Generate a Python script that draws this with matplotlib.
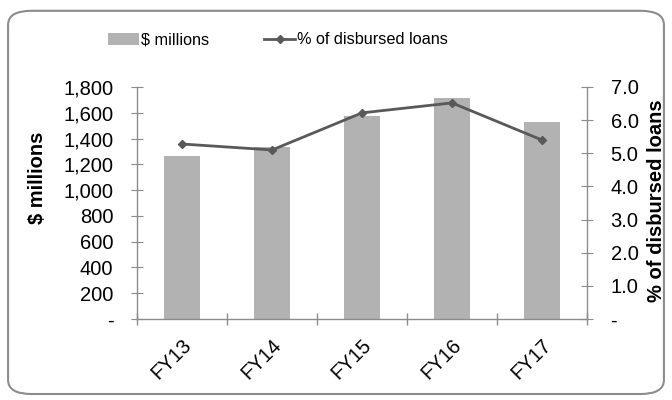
import matplotlib.pyplot as plt
from matplotlib.patches import FancyBboxPatch
import numpy as np

plt.rcParams['font.family'] = ['Liberation Sans', 'DejaVu Sans']

# Data
years = ['FY13', 'FY14', 'FY15', 'FY16', 'FY17']
millions = [1268, 1338, 1578, 1712, 1525]
pct_loans = [5.28, 5.10, 6.22, 6.52, 5.40]

bar_color = '#B2B2B2'
line_color = '#595959'
axis_color = '#8C8C8C'
fs = 14.5

fig = plt.figure(figsize=(6.72, 4.0), dpi=100)
ax = fig.add_axes([0.204, 0.2025, 0.6695, 0.58])
ax2 = ax.twinx()

x = np.arange(len(years))
bars = ax.bar(x, millions, width=0.4, color=bar_color, label='$ millions', zorder=2)
line, = ax2.plot(x, pct_loans, color=line_color, lw=2, marker='D', ms=4,
                 label='% of disbursed loans', zorder=3)

ax.set_xlim(-0.5, len(years) - 0.5)
ax.set_ylim(0, 1800)
ax.set_yticks(np.arange(0, 1801, 200))
ax.set_yticklabels(['-'] + [f'{v:,}' for v in range(200, 1801, 200)])
ax2.set_ylim(0, 7)
ax2.set_yticks(np.arange(0, 7.1, 1))
ax2.set_yticklabels(['-'] + [f'{v:.1f}' for v in range(1, 8)])

# category ticks at boundaries, labels at centers
ax.set_xticks(np.arange(-0.5, len(years)), minor=False)
ax.set_xticklabels([])
ax.set_xticks(x, minor=True)
ax.set_xticklabels(years, minor=True, rotation=45, ha='right', va='top',
                   rotation_mode='anchor', fontsize=fs)
ax.tick_params(axis='x', which='minor', length=0, pad=12)
ax.tick_params(axis='x', which='major', direction='inout', length=8,
               color=axis_color, width=1)
ax.tick_params(axis='y', direction='inout', length=8, color=axis_color,
               labelsize=fs, pad=13)
ax2.tick_params(axis='y', direction='inout', length=8, color=axis_color,
                labelsize=fs, pad=13)

for a in (ax, ax2):
    a.spines['top'].set_visible(False)
    for s in ('left', 'right', 'bottom'):
        a.spines[s].set_color(axis_color)
        a.spines[s].set_linewidth(1)
ax.spines['right'].set_visible(False)
ax2.spines['left'].set_visible(False)
ax2.spines['bottom'].set_visible(False)

ax.set_ylabel('$ millions', fontsize=fs, fontweight='bold', va='center')
ax.yaxis.set_label_coords(-0.222, 0.61)
ax2.set_ylabel('% of disbursed loans', fontsize=fs, fontweight='bold',
               rotation=90, va='center')
ax2.yaxis.set_label_coords(1.155, 0.51)

fig.legend(handles=[bars, line], loc='center', bbox_to_anchor=(0.414, 0.9),
           ncol=2, frameon=False, fontsize=11.7, handlelength=1.9,
           columnspacing=3.4, handletextpad=0.12)

# rounded border around the whole chart
border = FancyBboxPatch((0.012, 0.015), 0.976, 0.958,
                        boxstyle='round,pad=0,rounding_size=0.035',
                        transform=fig.transFigure, fill=False,
                        edgecolor=axis_color, lw=1.5)
fig.patches.append(border)

plt.savefig('out.png', dpi=100)
